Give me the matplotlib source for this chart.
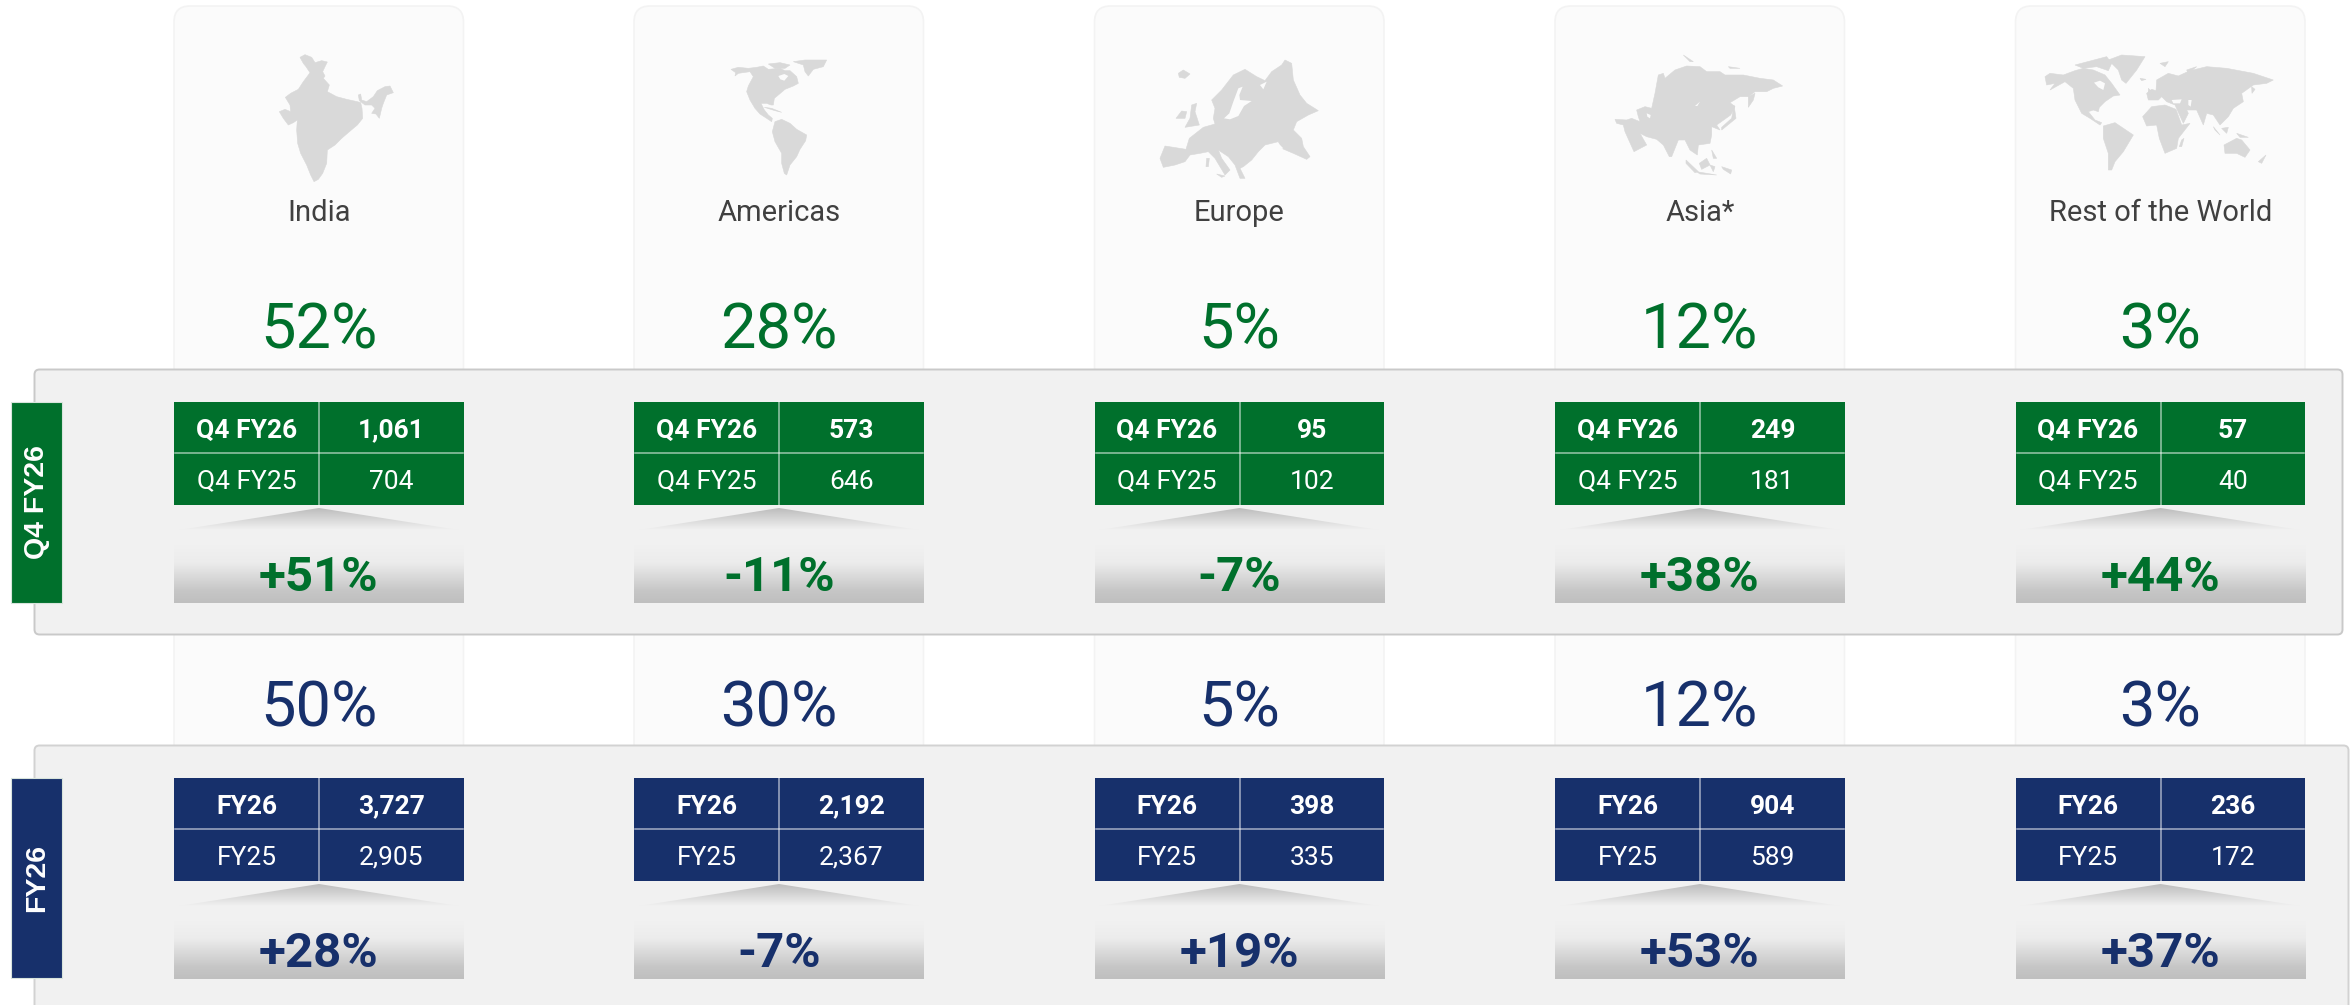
"""Regional revenue split: five region cards with Q4 FY26 and FY26 comparison tables."""

import matplotlib

matplotlib.use("Agg")
import matplotlib.pyplot as plt
import numpy as np
from matplotlib.colors import LinearSegmentedColormap
from matplotlib.patches import FancyBboxPatch, Polygon, Rectangle

WIDTH, HEIGHT = 2351, 1005
GREEN = "#00702C"
NAVY = "#17306B"
CARD = "#FBFBFB"
BAND = "#F1F1F1"
MAP_GREY = "#D9D9D9"

regions = ["India", "Americas", "Europe", "Asia*", "Rest of the World"]

q4_share = ["52%", "28%", "5%", "12%", "3%"]
q4_current = ["1,061", "573", "95", "249", "57"]
q4_prior = ["704", "646", "102", "181", "40"]
q4_growth = ["+51%", "-11%", "-7%", "+38%", "+44%"]

fy_share = ["50%", "30%", "5%", "12%", "3%"]
fy_current = ["3,727", "2,192", "398", "904", "236"]
fy_prior = ["2,905", "2,367", "335", "589", "172"]
fy_growth = ["+28%", "-7%", "+19%", "+53%", "+37%"]

# map outlines, traced in 3x crop pixels of each map: (origin, land shapes, holes)
india_land = [
    [(90, 22), (105, 14), (125, 22), (135, 38), (155, 32), (172, 36), (165, 50), (158, 65), (165, 78), (160, 85),
     (178, 105), (172, 125), (200, 140), (230, 148), (262, 155), (272, 158), (276, 175), (278, 205), (262, 225),
     (250, 235), (230, 252), (215, 265), (195, 285), (172, 300), (170, 340), (158, 370), (145, 388), (132, 395),
     (122, 375), (110, 345), (92, 310), (83, 280), (80, 240), (82, 210), (70, 218), (55, 225), (40, 205), (28, 185),
     (45, 178), (62, 185), (60, 165), (46, 142), (62, 130), (85, 118), (100, 95), (115, 75), (120, 68), (108, 50),
     (100, 40)],
    [(265, 135), (272, 132), (275, 150), (290, 155), (310, 140), (322, 122), (345, 110), (360, 108), (370, 128),
     (350, 135), (340, 160), (335, 175), (328, 205), (318, 192), (305, 190), (315, 175), (305, 165), (285, 165),
     (268, 152)],
]
americas_land = [
    [(18, 58), (40, 52), (70, 55), (95, 52), (115, 48), (130, 58), (165, 55), (180, 62), (195, 62), (215, 80),
     (220, 100), (205, 108), (180, 118), (160, 135), (148, 145), (145, 165), (138, 165), (125, 160), (108, 160),
     (118, 180), (130, 195), (142, 205), (140, 215), (125, 205), (105, 192), (90, 175), (75, 150), (65, 125),
     (70, 108), (85, 80), (75, 65), (40, 70), (30, 78), (32, 68)],
    [(130, 42), (165, 38), (195, 45), (180, 55), (150, 55)],
    [(205, 35), (240, 30), (305, 30), (295, 50), (265, 58), (250, 78), (240, 65), (235, 45)],
    [(118, 172), (140, 175), (170, 187), (150, 182)],
    [(150, 215), (170, 208), (195, 220), (215, 238), (245, 255), (242, 272), (225, 298), (215, 320), (195, 345),
     (185, 375), (178, 370), (170, 340), (170, 310), (150, 275), (142, 245)],
]
americas_holes = [[(160, 78), (178, 72), (190, 78), (178, 92), (166, 88)]]
europe_land = [
    [(30, 325), (45, 288), (108, 298), (118, 265), (160, 232), (195, 222), (190, 205), (195, 175), (185, 150),
     (215, 120), (250, 75), (285, 58), (320, 80), (345, 92), (365, 65), (395, 45), (405, 30), (425, 40), (430, 90),
     (450, 135), (470, 160), (505, 182), (475, 195), (440, 215), (430, 240), (455, 265), (460, 290), (480, 320),
     (470, 328), (430, 310), (395, 295), (385, 275), (345, 285), (325, 305), (305, 330), (280, 350), (270, 355),
     (285, 385), (270, 385), (255, 345), (235, 320), (205, 300), (215, 325), (240, 360), (225, 375), (195, 325),
     (175, 305), (150, 310), (120, 315), (105, 335), (75, 345), (40, 352)],
    [(125, 165), (140, 160), (135, 185), (148, 225), (105, 232), (120, 205)],
    [(78, 205), (95, 183), (110, 185), (105, 205)],
    [(85, 70), (100, 60), (120, 72), (105, 85), (88, 82)],
    [(200, 372), (225, 378), (215, 382)],
    [(170, 325), (178, 325), (175, 350), (168, 350)],
]
europe_holes = [
    [(222, 205), (238, 190), (250, 155), (265, 115), (278, 110), (268, 135), (270, 150), (305, 153), (282, 168),
     (265, 198), (240, 208)],
    [(330, 105), (350, 95), (340, 118)],
    [(345, 290), (385, 280), (400, 295), (370, 305), (345, 300)],
]
asia_land = [
    [(15, 208), (50, 210), (65, 205), (90, 215), (85, 200), (80, 180), (105, 170), (125, 175), (135, 130), (145, 75),
     (160, 70), (165, 85), (195, 60), (230, 48), (270, 50), (290, 65), (330, 65), (345, 75), (400, 75), (450, 85),
     (490, 90), (518, 108), (490, 115), (470, 125), (435, 125), (415, 140), (390, 140), (360, 158), (375, 170),
     (362, 195), (320, 225), (330, 240), (305, 230), (305, 255), (300, 280), (265, 285), (262, 315), (240, 300),
     (225, 270), (205, 270), (185, 320), (178, 320), (160, 285), (140, 268), (110, 260), (90, 250), (110, 285),
     (72, 305), (45, 245), (40, 225), (20, 220)],
    [(372, 165), (378, 205), (335, 240), (335, 232), (365, 205)],
    [(415, 140), (435, 130), (430, 150), (415, 172)],
    [(220, 15), (250, 35), (240, 35)],
    [(268, 340), (290, 325), (300, 345), (275, 358)],
    [(228, 330), (265, 365), (255, 368), (228, 340)],
    [(260, 365), (320, 375), (270, 372)],
    [(305, 300), (320, 325), (310, 325)],
    [(335, 350), (365, 360), (362, 372), (340, 358)],
    [(300, 345), (315, 350), (310, 365)],
    [(355, 50), (390, 55), (360, 55)],
]
asia_holes = [
    [(255, 168), (270, 155), (262, 168)],
    [(110, 190), (122, 195), (120, 205), (112, 200)],
]
world_land = [
    [(15, 80), (30, 70), (70, 75), (105, 62), (130, 55), (160, 60), (195, 75), (215, 100), (240, 135), (220, 138),
     (195, 155), (178, 172), (175, 185), (160, 180), (145, 185), (165, 210), (185, 218), (180, 225), (150, 205),
     (125, 190), (105, 150), (100, 115), (75, 95), (30, 120), (45, 100), (20, 105)],
    [(205, 30), (245, 15), (315, 20), (290, 60), (258, 100), (245, 90), (235, 60)],
    [(105, 45), (200, 20), (215, 40), (205, 62), (170, 50), (130, 55)],
    [(190, 228), (225, 218), (280, 255), (250, 305), (225, 335), (215, 360), (205, 360), (205, 310), (190, 265)],
    [(308, 200), (335, 170), (375, 165), (408, 178), (425, 225), (450, 220), (415, 265), (410, 295), (375, 310),
     (358, 265), (350, 225), (320, 228)],
    [(320, 130), (335, 118), (348, 122), (350, 90), (385, 70), (415, 78), (450, 62), (500, 50), (560, 55), (640, 70),
     (700, 90), (680, 100), (640, 105), (605, 130), (610, 155), (580, 175), (565, 200), (540, 225), (520, 195),
     (500, 190), (490, 225), (470, 180), (440, 180), (445, 190), (430, 220), (405, 165), (380, 155), (365, 140),
     (355, 150), (325, 150)],
    [(552, 285), (590, 265), (605, 270), (630, 300), (615, 322), (590, 310), (555, 310)],
    [(425, 270), (432, 265), (425, 290), (418, 290)],
    [(325, 115), (335, 125), (325, 135)],
    [(655, 335), (678, 315), (665, 340)],
    [(520, 230), (540, 255), (525, 240)],
    [(545, 235), (565, 232), (560, 250)],
    [(590, 250), (625, 262), (600, 262)],
    [(635, 110), (645, 118), (636, 130)],
    [(300, 85), (318, 88), (305, 92)],
    [(360, 40), (385, 35), (375, 50)],
    [(440, 60), (470, 50), (445, 70)],
]
world_holes = [
    [(162, 98), (180, 92), (195, 100), (190, 120), (175, 112)],
    [(395, 150), (425, 148), (420, 160), (400, 160)],
    [(445, 150), (455, 150), (452, 170), (445, 165)],
]

maps = [
    ((270, 50), india_land, []),
    ((725, 50), americas_land, americas_holes),
    ((1150, 50), europe_land, europe_holes),
    ((1610, 50), asia_land, asia_holes),
    ((2040, 50), world_land, world_holes),
]

CARD_X = [174, 634, 1094.5, 1555, 2015.5]
CARD_W = 289.5
DIV_X = 145


def rounded(ax, x, y, w, h, radius, face, edge, lw=1.2, z=1):
    box = FancyBboxPatch((x, y), w, h, boxstyle=f"round,pad=0,rounding_size={radius}",
                         facecolor=face, edgecolor=edge, linewidth=lw, zorder=z)
    ax.add_patch(box)


def gradient(ax, x0, x1, y0, y1, stops, clip=None, z=3):
    cmap = LinearSegmentedColormap.from_list("fade", stops)
    ramp = np.linspace(0, 1, 64).reshape(-1, 1)
    im = ax.imshow(ramp, extent=(x0, x1, y1, y0), cmap=cmap, aspect="auto", zorder=z, interpolation="bilinear")
    if clip is not None:
        patch = Polygon(clip, closed=True, transform=ax.transData)
        im.set_clip_path(patch)


def draw_map(ax, origin, land, holes):
    ox, oy = origin
    for shape in land:
        pts = [(ox + px / 3, oy + py / 3) for px, py in shape]
        ax.add_patch(Polygon(pts, closed=True, facecolor=MAP_GREY, edgecolor=MAP_GREY, linewidth=0.4, zorder=2))
    for shape in holes:
        pts = [(ox + px / 3, oy + py / 3) for px, py in shape]
        ax.add_patch(Polygon(pts, closed=True, facecolor=CARD, edgecolor="none", zorder=2.5))


def draw_block(ax, x, top, label_cur, label_prior, current, prior, growth, color):
    mid = top + 51
    bottom = top + 103
    ax.add_patch(Rectangle((x, top), CARD_W, bottom - top, facecolor=color, edgecolor="none", zorder=3))
    line = "#FFFFFF"
    ax.plot([x + DIV_X, x + DIV_X], [top, bottom], color=line, alpha=0.6, lw=1.1, zorder=4)
    ax.plot([x + 1, x + CARD_W - 1], [mid, mid], color=line, alpha=0.6, lw=1.1, zorder=4)
    c_left = x + DIV_X / 2
    c_right = x + DIV_X * 1.5
    ax.text(c_left, top + 26, label_cur, color="white", fontsize=19, fontweight="bold", ha="center", va="center_baseline", zorder=5)
    ax.text(c_right, top + 26, current, color="white", fontsize=19, fontweight="bold", ha="center", va="center_baseline", zorder=5)
    ax.text(c_left, top + 77, label_prior, color="white", fontsize=19, ha="center", va="center_baseline", zorder=5)
    ax.text(c_right, top + 77, prior, color="white", fontsize=19, ha="center", va="center_baseline", zorder=5)
    # arrow head and fading growth box under the table
    apex = bottom + 3
    base = apex + 22
    tri = [(x + DIV_X, apex), (x + CARD_W - 5, base), (x + 5, base)]
    gradient(ax, x, x + CARD_W, apex, base, ["#BDBDBD", BAND], clip=tri)
    stops = [(0, BAND), (0.3, "#ECECEC"), (0.8, "#C6C6C6"), (1, "#BFBFBF")]
    gradient(ax, x, x + CARD_W, bottom + 40, bottom + 98, stops)
    ax.text(x + CARD_W / 2, bottom + 68, growth, color=color, fontsize=35.5, fontweight="bold", ha="center", va="center_baseline", zorder=5)


def draw_tag(ax, top, bottom, label, color):
    ax.add_patch(Rectangle((11, top), 51, bottom - top, facecolor=color, edgecolor="#D8E4DC", linewidth=0.8, zorder=4))
    ax.text(37.5, (top + bottom) / 2, label, color="white", fontsize=20.5, fontweight="bold", family="Liberation Sans",
            rotation=90, ha="center", va="center", zorder=5)


def main():
    plt.rcParams["font.family"] = ["Roboto", "DejaVu Sans"]
    fig = plt.figure(figsize=(WIDTH / 100, HEIGHT / 100), dpi=100, facecolor="white")
    ax = fig.add_axes([0, 0, 1, 1])
    ax.set_axis_off()

    for i, x in enumerate(CARD_X):
        rounded(ax, x, 6, CARD_W, 800, 16, CARD, "#F3F3F3", z=1)
        origin, land, holes = maps[i]
        draw_map(ax, origin, land, holes)
        ax.text(x + CARD_W / 2, 213, regions[i], color="#404040", fontsize=21, ha="center", va="center", zorder=3)
        ax.text(x + CARD_W / 2, 331, q4_share[i], color=GREEN, fontsize=45.5, ha="center", va="center", zorder=3)
        ax.text(x + CARD_W / 2, 709, fy_share[i], color=NAVY, fontsize=45.5, ha="center", va="center", zorder=3)

    rounded(ax, 34.5, 369.5, 2308, 265, 5, BAND, "#C9C9C9", lw=1.4, z=2.8)
    rounded(ax, 34.5, 745.5, 2314, 280, 5, BAND, "#D2D2D2", lw=1.4, z=2.8)

    draw_tag(ax, 402, 603, "Q4 FY26", GREEN)
    draw_tag(ax, 777.5, 978, "FY26", NAVY)

    for i, x in enumerate(CARD_X):
        draw_block(ax, x, 402, "Q4 FY26", "Q4 FY25", q4_current[i], q4_prior[i], q4_growth[i], GREEN)
        draw_block(ax, x, 778, "FY26", "FY25", fy_current[i], fy_prior[i], fy_growth[i], NAVY)

    ax.set_xlim(0, WIDTH)
    ax.set_ylim(HEIGHT, 0)
    fig.savefig("out.png", dpi=100)
    plt.close(fig)


if __name__ == "__main__":
    main()
